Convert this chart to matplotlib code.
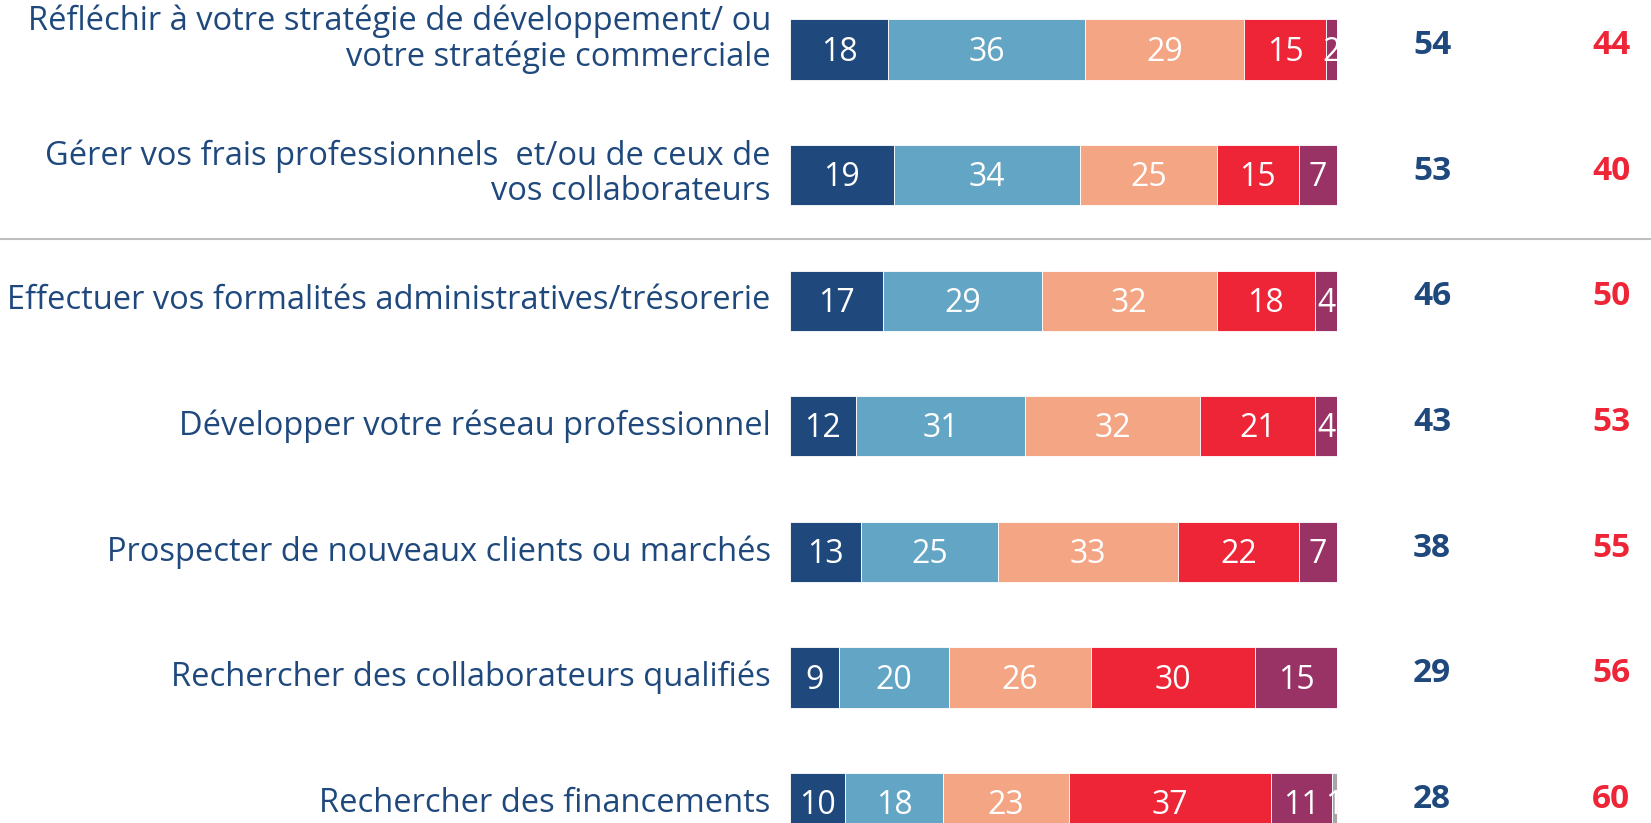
import numpy as np
import matplotlib.pyplot as plt

plt.rcParams['font.family'] = ['Liberation Sans Narrow', 'Open Sans', 'DejaVu Sans']

labels = [
    "Réfléchir à votre stratégie de développement/ ou\nvotre stratégie commerciale",
    "Gérer vos frais professionnels  et/ou de ceux de\nvos collaborateurs",
    "Effectuer vos formalités administratives/trésorerie",
    "Développer votre réseau professionnel",
    "Prospecter de nouveaux clients ou marchés",
    "Rechercher des collaborateurs qualifiés",
    "Rechercher des financements",
]
s1 = [18, 19, 17, 12, 13, 9, 10]
s2 = [36, 34, 29, 31, 25, 20, 18]
s3 = [29, 25, 32, 32, 33, 26, 23]
s4 = [15, 15, 18, 21, 22, 30, 37]
s5 = [2, 7, 4, 4, 7, 15, 11]
s6 = [0, 0, 0, 0, 0, 0, 1]
total_pos = [54, 53, 46, 43, 38, 29, 28]
total_neg = [44, 40, 50, 53, 55, 56, 60]

colors = ['#1F497D', '#62A5C4', '#F4A583', '#EE2536', '#993366', '#A6A6A6']
blue_txt = '#1F497D'
red_txt = '#EE2536'

fig = plt.figure(figsize=(16.51, 8.23), dpi=100)
ax = fig.add_axes([0, 0, 1, 1])

px = 5.47  # pixels per percent
ax.set_xlim(-790 / px, (1651 - 790) / px)
ax.set_ylim((823 - 49.5) / 125.6, -49.5 / 125.6)
ax.axis('off')

y = np.arange(len(labels))
left = np.zeros(len(labels))
for k, s in enumerate([s1, s2, s3, s4, s5, s6]):
    s = np.array(s, dtype=float)
    bars = ax.barh(y, s, left=left, height=0.48, color=colors[k], edgecolor='white', linewidth=0.6)
    for i in range(len(labels)):
        if s[i] > 0:
            t = ax.text(left[i] + s[i] / 2, y[i] + 0.02, f"{int(s[i])}", ha='center', va='center',
                        color='white', fontsize=23)
            t.set_clip_path(bars[i])
    left += s

label_dy = [-0.08, -0.01, 0, 0, 0, 0, 0]
for i, lab in enumerate(labels):
    ax.text(-3.5, y[i] + label_dy[i], lab, ha='right', va='center', color=blue_txt,
            fontsize=23.5, linespacing=1.08)
    ax.text(117.4, y[i] - 0.03, f"{total_pos[i]}", ha='center', va='center',
            color=blue_txt, fontsize=24, fontweight='bold')
    ax.text(150.1, y[i] - 0.03, f"{total_neg[i]}", ha='center', va='center',
            color=red_txt, fontsize=24, fontweight='bold')

ax.axhline(1.51, color='#BFBFBF', linewidth=1.5)

plt.savefig('out.png', dpi=100)
